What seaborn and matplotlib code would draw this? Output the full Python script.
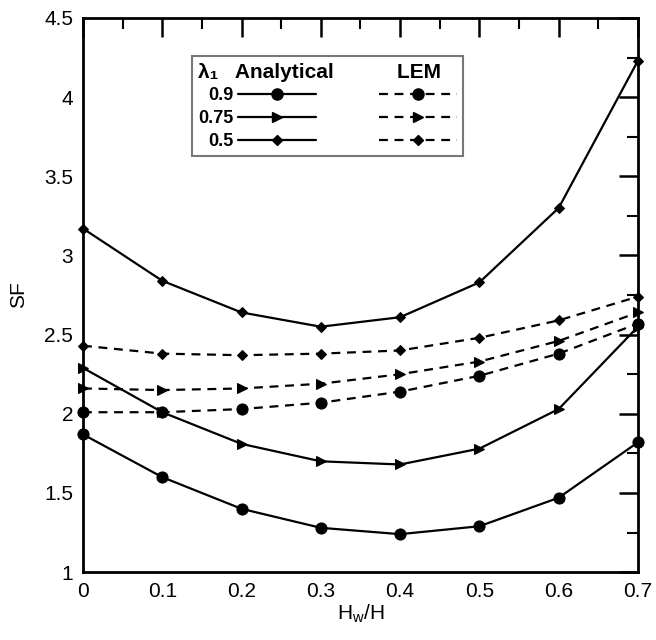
import numpy as np
import pandas as pd
import matplotlib
matplotlib.use('Agg')
import matplotlib.pyplot as plt
import seaborn as sns
from matplotlib.lines import Line2D
from matplotlib.ticker import MultipleLocator

# Hw/H ratios
hw_ratio = [0.0, 0.1, 0.2, 0.3, 0.4, 0.5, 0.6, 0.7]

# Analytical solutions (lambda_1 = 0.9, 0.75, 0.5)
sf_ana_09 = [1.87, 1.60, 1.40, 1.28, 1.24, 1.29, 1.47, 1.82]
sf_ana_075 = [2.29, 2.01, 1.81, 1.70, 1.68, 1.78, 2.03, 2.55]
sf_ana_05 = [3.17, 2.84, 2.64, 2.55, 2.61, 2.83, 3.30, 4.23]

# LEM results
sf_lem_09 = [2.01, 2.01, 2.03, 2.07, 2.14, 2.24, 2.38, 2.57]
sf_lem_075 = [2.16, 2.15, 2.16, 2.19, 2.25, 2.33, 2.46, 2.64]
sf_lem_05 = [2.43, 2.38, 2.37, 2.38, 2.40, 2.48, 2.59, 2.74]

lambdas = ['0.9', '0.75', '0.5']
markers = ['o', '>', 'D']
msizes = [8, 7.5, 5.5]

sns.set_theme(style='white')
plt.rcParams['font.family'] = ['Liberation Sans', 'DejaVu Sans']
plt.rcParams['mathtext.fontset'] = 'custom'
plt.rcParams['mathtext.rm'] = 'Liberation Sans'
plt.rcParams['mathtext.it'] = 'Liberation Sans'
plt.rcParams['text.color'] = 'black'
plt.rcParams['axes.labelcolor'] = 'black'
plt.rcParams['xtick.color'] = 'black'
plt.rcParams['ytick.color'] = 'black'

fig = plt.figure(figsize=(6.56, 6.4), dpi=100)
ax = fig.add_axes([0.1265, 0.106, 0.846, 0.866])

ana = [sf_ana_09, sf_ana_075, sf_ana_05]
lem = [sf_lem_09, sf_lem_075, sf_lem_05]

for vals, m, ms in zip(ana, markers, msizes):
    sns.lineplot(x=hw_ratio, y=vals, ax=ax, color='black', marker=m,
                 markersize=ms, markeredgecolor='black', linewidth=1.6,
                 linestyle='-', legend=False, clip_on=False)
for vals, m, ms in zip(lem, markers, msizes):
    sns.lineplot(x=hw_ratio, y=vals, ax=ax, color='black', marker=m,
                 markersize=ms, markeredgecolor='black', linewidth=1.6,
                 linestyle=(0, (4, 3)), legend=False, clip_on=False)

ax.set_xlim(0, 0.7)
ax.set_ylim(1, 4.5)
ax.xaxis.set_minor_locator(MultipleLocator(0.05))
ax.yaxis.set_minor_locator(MultipleLocator(0.25))
ax.set_xticks(np.arange(0, 0.71, 0.1))
ax.set_xticklabels(['0', '0.1', '0.2', '0.3', '0.4', '0.5', '0.6', '0.7'])
ax.set_yticks(np.arange(1, 4.51, 0.5))
ax.set_yticklabels(['1', '1.5', '2', '2.5', '3', '3.5', '4', '4.5'])
ax.tick_params(which='major', direction='in', length=14, width=1.8,
               top=True, right=True, labelsize=15, pad=7)
ax.tick_params(which='minor', direction='in', length=8, width=1.5,
               top=True, right=True)
for sp in ax.spines.values():
    sp.set_linewidth(2)
    sp.set_color('black')

ax.set_xlabel(r'H$_{\rm w}$/H', fontsize=15, labelpad=1)
ax.set_ylabel('SF', fontsize=15, labelpad=12)

handles = []
labels = []
for lab, m, ms in zip(lambdas, markers, msizes):
    handles.append(Line2D([], [], color='black', marker=m, markersize=ms,
                          linewidth=1.6, linestyle='-'))
    labels.append(lab)
for lab, m, ms in zip(lambdas, markers, msizes):
    handles.append(Line2D([], [], color='black', marker=m, markersize=ms,
                          linewidth=1.6, linestyle=(0, (4, 3))))
    labels.append(' ')

leg = ax.legend(handles, labels, ncol=2, markerfirst=False, numpoints=1,
                loc='upper left', bbox_to_anchor=(0.18, 0.947),
                title='λ₁   Analytical           LEM',
                prop={'weight': 'bold', 'size': 13},
                title_fontproperties={'weight': 'bold', 'size': 15},
                handlelength=4.3, handletextpad=0.25, columnspacing=3.0,
                labelspacing=0.32, borderpad=0.35, fancybox=False,
                framealpha=1, edgecolor='#777777')
leg.get_frame().set_linewidth(1.5)
leg._legend_box.align = 'left'

fig.savefig('out.png', dpi=100)
